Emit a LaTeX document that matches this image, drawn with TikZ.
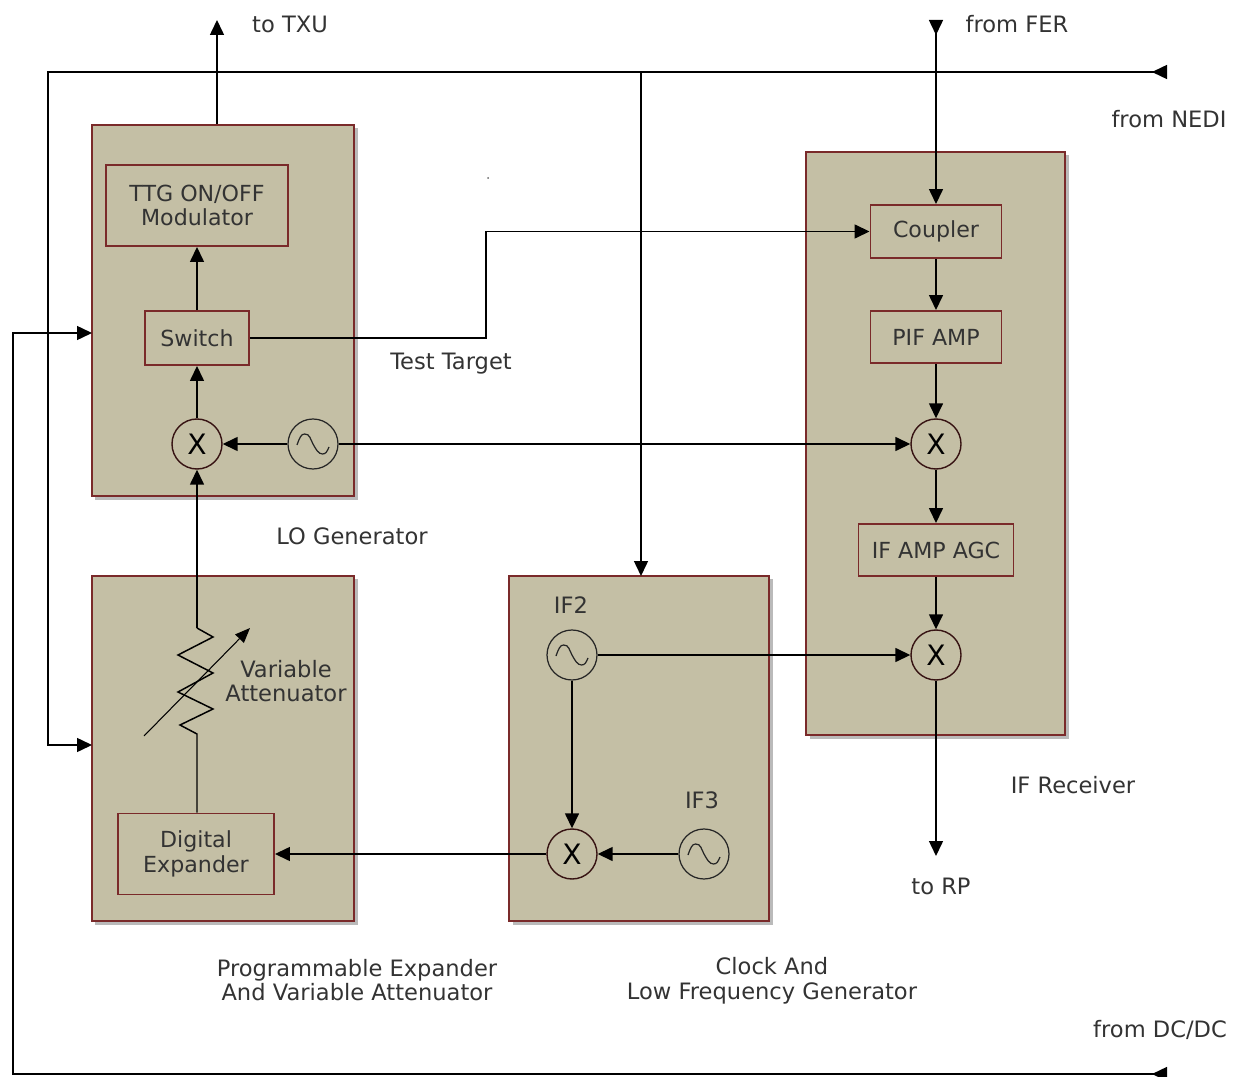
\documentclass[tikz,border=0pt]{standalone}
\usepackage{fontspec}
\setmainfont{DejaVu Sans}
\usetikzlibrary{arrows.meta,shadows}
\definecolor{boxfill}{HTML}{C4BFA5}
\definecolor{boxline}{HTML}{7A2A2A}
\definecolor{labelgray}{HTML}{333333}

\begin{document}
\begin{tikzpicture}[
  x=0.2mm, y=-0.2mm,
  font=\fontsize{12.6}{14}\selectfont,
  txt/.style={text=labelgray, align=center, inner sep=0pt, font=\fontsize{12.85}{14}\selectfont},
  unitbox/.style={rectangle, draw=boxline, line width=1pt, fill=boxfill, inner sep=0pt,
              drop shadow={shadow xshift=0.7mm, shadow yshift=-0.7mm, fill=black!45, opacity=0.6}},
  blk/.style={rectangle, draw=boxline, line width=1.1pt, fill=boxfill, inner sep=0pt,
              align=center, text=labelgray},
  mix/.style={circle, draw=black!55!boxline, line width=0.8pt, fill=boxfill, inner sep=0pt,
              minimum size=10mm, font=\fontsize{16}{16}\selectfont},
  osc/.style={circle, draw=black!85, line width=0.7pt, fill=boxfill, inner sep=0pt,
              minimum size=10mm,
              path picture={\draw[black!85, line width=0.7pt]
                ([shift={(-3.2mm,-0.2mm)}]path picture bounding box.center)
                .. controls ++(0.5mm,1.4mm) and ++(-0.7mm,0mm) .. ([shift={(-1.7mm,2mm)}]path picture bounding box.center)
                .. controls ++(1.1mm,0mm) and ++(-0.6mm,1.1mm) .. (path picture bounding box.center)
                .. controls ++(0.6mm,-1.1mm) and ++(-0.8mm,0mm) .. ([shift={(1.9mm,-2mm)}]path picture bounding box.center)
                .. controls ++(0.7mm,0mm) and ++(-0.4mm,-0.9mm) .. ([shift={(3.2mm,-0.6mm)}]path picture bounding box.center);}},
  wire/.style={draw=black, line width=0.85pt},
  arr/.style={wire, -{Triangle[length=3mm,width=2.8mm]}},
  inarrb/.style={wire, {Triangle[length=3mm,width=2.8mm,reversed]}-{Triangle[length=3mm,width=2.8mm]}}
]
\useasboundingbox (0,0) rectangle (1237,1077);

% unit boxes
\node[unitbox, minimum width=52.4mm, minimum height=74.2mm] (lo)    at (223,310.5) {};
\node[unitbox, minimum width=52.4mm, minimum height=69mm]   (prog)  at (223,748.5) {};
\node[unitbox, minimum width=52mm,   minimum height=69mm]   (clock) at (639,748.5) {};
\node[unitbox, minimum width=51.8mm, minimum height=116.6mm] (ifr)  at (935.5,443.5) {};

% LO generator
\node[blk, minimum width=36.4mm, minimum height=16.2mm] (ttg) at (197,205.5) {TTG ON/OFF\\Modulator};
\node[blk, minimum width=20.8mm, minimum height=10.8mm] (sw)  at (197,338) {Switch};
\node[mix] (lomix) at (197,444) {X};
\node[osc] (loosc) at (313,444) {};

% IF receiver
\node[blk, minimum width=26.2mm, minimum height=10.6mm] (coupler) at (936,231.5) {Coupler};
\node[blk, minimum width=26.2mm, minimum height=10.4mm] (pif)     at (936,337) {PIF AMP};
\node[mix] (mixa) at (936,444) {X};
\node[blk, minimum width=31mm, minimum height=10.4mm]   (agc)     at (936,550) {IF AMP AGC};
\node[mix] (mixb) at (936,655) {X};

% clock
\node[osc] (iftwo)   at (572,655) {};
\node[mix] (clkmix)  at (572,854) {X};
\node[osc] (ifthree) at (704,854) {};

% expander
\node[blk, minimum width=31.2mm, minimum height=16.2mm] (dig) at (196,854) {Digital\\Expander};

% free ends
\coordinate (txu)   at (217,20);
\coordinate (fer)   at (936,20);
\coordinate (nedi)  at (1167,72);
\coordinate (dcdc)  at (1167,1074);
\coordinate (rp)    at (936,856);
\coordinate (zigtop) at (197,628);
\coordinate (zigbot) at (197,734);
\coordinate (tapclk) at (641,72);
\coordinate (corner) at (48,72);
\coordinate (lopwr)  at (92,333);
\coordinate (progin) at (92,745);
\coordinate (bendx)  at (13,333);
\coordinate (testx)  at (486,338);
\coordinate (clkin)  at (641,576);

% connectors
\draw[arr] (lo.north -| txu) -- (txu);
\draw[arr] (sw) -- (ttg);
\draw[arr] (lomix) -- (sw);
\draw[arr] (loosc) -- (lomix);
\draw[arr] (loosc) -- (mixa);
\draw[arr] (sw) -- (testx) -- (testx |- coupler) -- (coupler);
\draw[inarrb] (fer) -- (coupler);
\draw[arr] (coupler) -- (pif);
\draw[arr] (pif) -- (mixa);
\draw[arr] (mixa) -- (agc);
\draw[arr] (agc) -- (mixb);
\draw[arr] (iftwo) -- (mixb);
\draw[arr] (mixb) -- (rp);
\draw[arr] (iftwo) -- (clkmix);
\draw[arr] (ifthree) -- (clkmix);
\draw[arr] (clkmix) -- (dig);
\draw[inarrb] (nedi) -- (corner) -- (corner |- progin) -- (progin);
\draw[arr] (tapclk) -- (clkin);
\draw[inarrb] (dcdc) -- (dcdc -| bendx) -- (bendx) -- (lopwr);

% attenuator
\draw[wire] (dig.north -| zigbot) -- (zigbot) -- (180,725) -- (213,709) -- (178,692) -- (213,673) -- (178,655) -- (213,637) -- (zigtop);
\draw[arr] (zigtop) -- (lomix);
\draw[wire, line width=0.6pt, -{Triangle[length=3mm,width=2.4mm]}] (144,736) -- (250,628);

% labels
\node[txt] (ltxu)  at (290,24)  {to TXU};
\node[txt] (lfer)  at (1017,24) {from FER};
\node[txt] (lnedi) at (1169,119) {from NEDI};
\node[txt] (ltest) at (451,364) {Test Target};
\node[txt] (llo)   at (352,536) {LO Generator};
\node[txt] (lvar)  at (286,681) {Variable\\Attenuator};
\node[txt] (lif2)  at (571,605) {IF2};
\node[txt] (lif3)  at (702,800) {IF3};
\node[txt] (lifr)  at (1073,785) {IF Receiver};
\node[txt] (lrp)   at (941,886) {to RP};
\node[txt] (lprog) at (357,980) {Programmable Expander\\And Variable Attenuator};
\node[txt] (lclk)  at (772,981) {Clock And\\Low Frequency Generator};
\node[txt] (ldc)   at (1160,1030) {from DC/DC};
\fill[black!60] (488,178) circle (0.2mm);
\end{tikzpicture}
\end{document}
